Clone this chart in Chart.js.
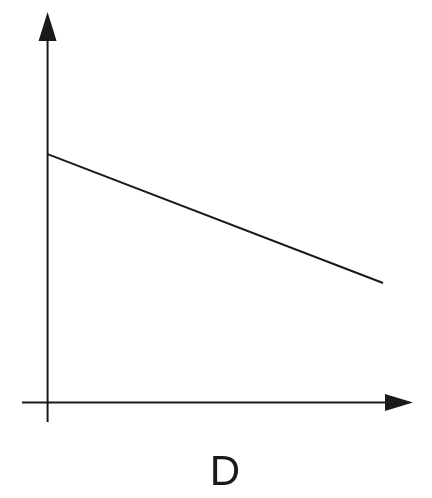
<!DOCTYPE html>
<html>
<head>
<meta charset="utf-8">
<title>D</title>
<script src="https://cdn.jsdelivr.net/npm/chart.js@4/dist/chart.umd.min.js"></script>
<style>
    html, body { margin: 0; padding: 0; background: #fff; }
    #wrap { width: 432px; height: 498px; }
</style>
</head>
<body>
<div id="wrap"><canvas id="chart" width="432" height="498"></canvas></div>
<script>
// Line values (x runs from origin to the right, y from origin upward)
const lineX = [0, 9.18];
const lineY = [6.36, 3.06];

// Axis ranges (axes overshoot the origin slightly, arrows at the max ends)
const xRange = [-0.7, 10];
const yRange = [-0.5, 10];

const axisLabel = 'D';
const ink = '#1a1a1a';

// Draws the two axes with arrow heads and the axis letter
const arrowAxes = {
    id: 'arrowAxes',
    afterDatasetsDraw(chart) {
        const ctx = chart.ctx;
        const x = chart.scales.x;
        const y = chart.scales.y;
        const ox = x.getPixelForValue(0);
        const oy = y.getPixelForValue(0);
        const xEnd = x.getPixelForValue(xRange[1]);
        const yEnd = y.getPixelForValue(yRange[1]);

        ctx.save();
        ctx.strokeStyle = ink;
        ctx.fillStyle = ink;
        ctx.lineWidth = 2;

        // horizontal axis
        ctx.beginPath();
        ctx.moveTo(x.getPixelForValue(xRange[0]), oy);
        ctx.lineTo(xEnd - 20, oy);
        ctx.stroke();
        ctx.beginPath();
        ctx.moveTo(xEnd, oy);
        ctx.lineTo(xEnd - 28, oy - 8.5);
        ctx.lineTo(xEnd - 28, oy + 8.5);
        ctx.closePath();
        ctx.fill();

        // vertical axis
        ctx.beginPath();
        ctx.moveTo(ox, y.getPixelForValue(yRange[0]));
        ctx.lineTo(ox, yEnd + 20);
        ctx.stroke();
        ctx.beginPath();
        ctx.moveTo(ox, yEnd);
        ctx.lineTo(ox - 9, yEnd + 29);
        ctx.lineTo(ox + 9, yEnd + 29);
        ctx.closePath();
        ctx.fill();

        // axis letter
        ctx.font = '42px "Liberation Sans", Arial, sans-serif';
        ctx.textAlign = 'center';
        ctx.textBaseline = 'middle';
        ctx.fillText(axisLabel, 225, 473);
        ctx.restore();
    }
};

new Chart(document.getElementById('chart'), {
    type: 'line',
    data: {
        datasets: [{
            data: lineX.map((v, i) => ({ x: v, y: lineY[i] })),
            borderColor: ink,
            borderWidth: 2,
            pointRadius: 0,
            fill: false,
            tension: 0
        }]
    },
    options: {
        responsive: false,
        animation: false,
        devicePixelRatio: 1,
        layout: { padding: { left: 22, right: 19, top: 12, bottom: 76 } },
        plugins: { legend: { display: false }, tooltip: { enabled: false } },
        scales: {
            x: { type: 'linear', display: false, min: xRange[0], max: xRange[1] },
            y: { type: 'linear', display: false, min: yRange[0], max: yRange[1] }
        }
    },
    plugins: [arrowAxes]
});
</script>
</body>
</html>
